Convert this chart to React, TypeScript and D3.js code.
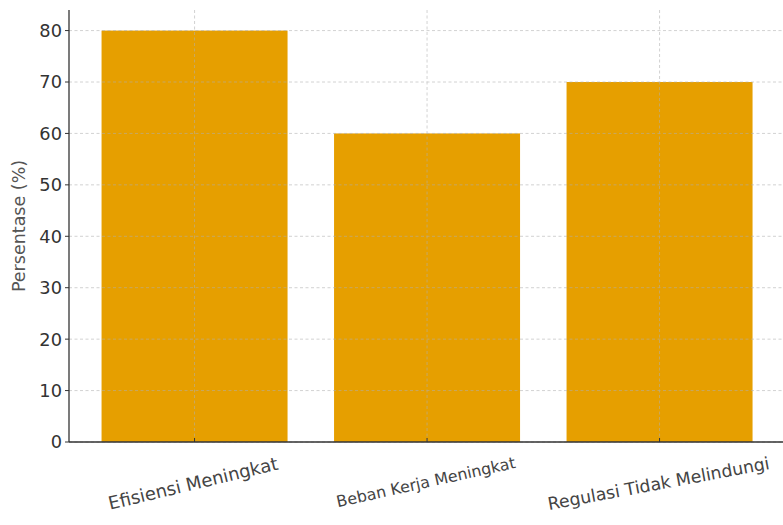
import React, { useEffect, useRef } from "react";
import * as d3 from "d3";

const categories = ["Efisiensi Meningkat", "Beban Kerja Meningkat", "Regulasi Tidak Melindungi"];
const values = [80, 60, 70];
const yTicks = [0, 10, 20, 30, 40, 50, 60, 70, 80];
const yLabel = "Persentase (%)";

// label styling (font size, rotation)
const labelSizes = [18, 15.8, 17.3];
const labelAngles = [13.5, 12.5, 10.5];

const W = 783;
const H = 525;
const M = { left: 69, top: 10, right: 0, bottom: 83 };
const FONT = "'DejaVu Sans', sans-serif";

export default function App() {
  const ref = useRef<SVGSVGElement>(null);
  useEffect(() => {
    const svg = d3.select(ref.current);
    svg.selectAll("*").remove();
    const x0 = M.left;
    const yBottom = H - M.bottom;
    const step = 232.5;
    const x = d3
      .scaleLinear()
      .domain([-0.54, 2.54])
      .range([x0, x0 + step * 3.08]);
    const y = d3.scaleLinear().domain([0, 84]).range([yBottom, M.top]);
    const barW = 0.8;

    // bars
    svg
      .append("g")
      .selectAll("rect")
      .data(values)
      .join("rect")
      .attr("x", (_, i) => x(i - barW / 2))
      .attr("width", x(barW) - x(0))
      .attr("y", (d) => y(d))
      .attr("height", (d) => y(0) - y(d))
      .attr("fill", "#E69F00");

    // grid (drawn above bars)
    const grid = svg.append("g").attr("stroke", "#b0b0b0").attr("stroke-dasharray", "3,2.5").attr("stroke-width", 0.8).attr("opacity", 0.7);
    grid
      .selectAll("line.h")
      .data(yTicks)
      .join("line")
      .attr("class", "h")
      .attr("x1", x0)
      .attr("x2", W)
      .attr("y1", (d) => y(d))
      .attr("y2", (d) => y(d));
    grid
      .selectAll("line.v")
      .data(categories)
      .join("line")
      .attr("class", "v")
      .attr("x1", (_, i) => x(i))
      .attr("x2", (_, i) => x(i))
      .attr("y1", M.top)
      .attr("y2", yBottom);

    // spines
    svg.append("line").attr("x1", x0).attr("x2", x0).attr("y1", M.top).attr("y2", yBottom).attr("stroke", "#333").attr("stroke-width", 1.3);
    svg.append("line").attr("x1", x0).attr("x2", W).attr("y1", yBottom).attr("y2", yBottom).attr("stroke", "#333").attr("stroke-width", 1.3);

    // y ticks
    const yt = svg.append("g");
    yt.selectAll("line")
      .data(yTicks)
      .join("line")
      .attr("x1", x0 - 4)
      .attr("x2", x0)
      .attr("y1", (d) => y(d))
      .attr("y2", (d) => y(d))
      .attr("stroke", "#333")
      .attr("stroke-width", 1);
    yt.selectAll("text")
      .data(yTicks)
      .join("text")
      .attr("x", x0 - 7)
      .attr("y", (d) => y(d))
      .attr("dy", "0.36em")
      .attr("text-anchor", "end")
      .attr("font-family", FONT)
      .attr("font-size", 17.8)
      .attr("fill", "#333")
      .text((d) => String(d));

    // x ticks (inward)
    svg
      .append("g")
      .selectAll("line")
      .data(categories)
      .join("line")
      .attr("x1", (_, i) => x(i))
      .attr("x2", (_, i) => x(i))
      .attr("y1", yBottom - 4)
      .attr("y2", yBottom)
      .attr("stroke", "#333");

    // x labels rotated, placed by the top of their rotated box
    const xl = svg.append("g");
    categories.forEach((c, i) => {
      const fs = labelSizes[i];
      const ang = labelAngles[i];
      const rad = (ang * Math.PI) / 180;
      const t = xl
        .append("text")
        .attr("font-family", FONT)
        .attr("font-size", fs)
        .attr("fill", "#444")
        .attr("text-anchor", "middle")
        .text(c);
      const w = (t.node() as SVGTextElement).getComputedTextLength();
      const asc = 0.76 * fs;
      const top = yBottom + 14;
      const by = top + (w / 2) * Math.sin(rad) + asc * Math.cos(rad);
      t.attr("transform", `translate(${x(i)},${by}) rotate(${-ang})`);
    });

    // y label
    svg
      .append("text")
      .attr("transform", `translate(19,${(M.top + yBottom) / 2}) rotate(-90)`)
      .attr("text-anchor", "middle")
      .attr("dominant-baseline", "central")
      .attr("font-family", FONT)
      .attr("font-size", 17.5)
      .attr("fill", "#555")
      .text(yLabel);
  }, []);
  return (
    <svg
      ref={ref}
      width={W}
      height={H}
      style={{ position: "absolute", left: 0, top: 0, background: "#fff" }}
    />
  );
}
